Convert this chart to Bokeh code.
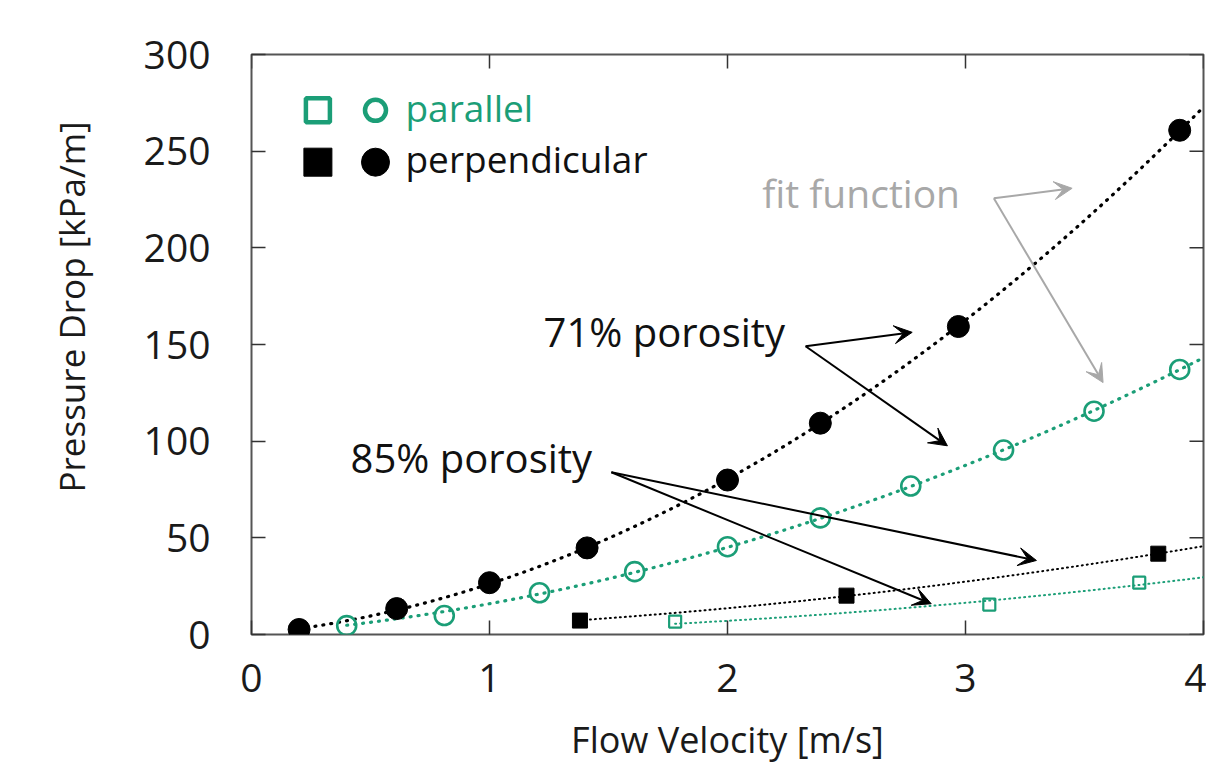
import numpy as np
from bokeh.plotting import figure
from bokeh.models import Range1d, Arrow, VeeHead, FixedTicker, Title
from bokeh.core.properties import value
from bokeh.embed import file_html
from bokeh.resources import INLINE

# ---- data ----
perp71_v = [0.20, 0.61, 1.00, 1.41, 2.00, 2.39, 2.97, 3.90]
perp71_p = [2.6, 13.4, 26.8, 44.8, 79.9, 109.3, 159.3, 260.8]
par71_v = [0.40, 0.81, 1.21, 1.61, 2.00, 2.39, 2.77, 3.16, 3.54, 3.90]
par71_p = [4.6, 9.8, 21.6, 32.5, 45.4, 60.3, 76.8, 95.4, 115.5, 137.1]
perp85_v = [1.38, 2.50, 3.81]
perp85_p = [7.2, 20.1, 41.8]
par85_v = [1.78, 3.10, 3.73]
par85_p = [6.7, 15.5, 26.8]

x_ticks = [0, 1, 2, 3, 4]
y_ticks = [0, 50, 100, 150, 200, 250, 300]

# annotation anchors (data units)
label71 = (1.227, 156.7)
label85 = (0.416, 91.4)
labelfit = (2.146, 228.5)
arrows71 = [((2.328, 149.1), (2.776, 156.3)), ((2.328, 149.1), (2.924, 97.6))]
arrows85 = [((1.512, 83.9), (3.298, 38.3)), ((1.512, 83.9), (2.856, 15.9))]
arrowsfit = [((3.119, 225.6), (3.448, 230.8)), ((3.119, 225.6), (3.578, 130.3))]
legend_sq_x, legend_ci_x, legend_txt_x = 0.279, 0.521, 0.647
legend_rows = (271.1, 244.3)
legend_txt_rows = (272.7, 246.0)

GREEN = "#1b9e77"
BLACK = "#000000"
GRAY = "#a8a8a8"
FONT = "Open Sans"

W, H = 1206, 766
BL, BR, BT, BB = 251, 3, 54, 130
TICK = 14


def forchheimer_fit(v, p, vmax=4.0):
    v = np.asarray(v, float)
    p = np.asarray(p, float)
    A = np.column_stack([v, v ** 2])
    coef, *_ = np.linalg.lstsq(A, p, rcond=None)
    vv = np.linspace(v.min(), vmax, 200)
    return vv, coef[0] * vv + coef[1] * vv ** 2


xr = Range1d(0, 4)
yr = Range1d(0, 300)
p = figure(width=W, height=H, output_backend="svg", toolbar_location=None,
           x_range=xr, y_range=yr,
           min_border_left=BL, min_border_right=BR, min_border_top=BT, min_border_bottom=BB)
p.background_fill_color = "white"
p.border_fill_color = "white"
p.grid.visible = False
p.outline_line_color = "#555555"
p.outline_line_width = 2

for ax in (p.xaxis[0], p.yaxis[0]):
    ax.axis_line_color = None
    ax.major_tick_in = TICK
    ax.major_tick_out = 0
    ax.major_tick_line_color = "#333333"
    ax.major_tick_line_width = 1.5
    ax.minor_tick_line_color = None
    ax.major_label_text_font = FONT
    ax.major_label_text_font_size = "39px"
    ax.major_label_text_color = "#1a1a1a"
    ax.axis_label_text_font = FONT
    ax.axis_label_text_font_size = "36px"
    ax.axis_label_text_font_style = "normal"
    ax.axis_label_text_color = "#1a1a1a"
p.xaxis[0].ticker = FixedTicker(ticks=x_ticks)
p.yaxis[0].ticker = FixedTicker(ticks=y_ticks)
p.xaxis[0].axis_label = "Flow Velocity [m/s]"
p.xaxis[0].major_label_standoff = 29
p.yaxis[0].major_label_standoff = 41
p.xaxis[0].axis_label_standoff = 20

# y-axis title placed off-centre, as in the reference
ytitle = Title(text="Pressure Drop [kPa/m]", align="left", offset=142,
               text_font=FONT, text_font_size="35px", text_font_style="normal",
               text_color="#1a1a1a", standoff=91)
p.add_layout(ytitle, "left")

# mirrored ticks on top and right edges
frame_w = W - BL - BR
frame_h = H - BT - BB
dy = TICK * (yr.end - yr.start) / frame_h
dx = TICK * (xr.end - xr.start) / frame_w
p.segment(x0=x_ticks, y0=[yr.end] * len(x_ticks), x1=x_ticks, y1=[yr.end - dy] * len(x_ticks),
          line_color="#333333", line_width=1.5)
p.segment(x0=[xr.end] * len(y_ticks), y0=y_ticks, x1=[xr.end - dx] * len(y_ticks), y1=y_ticks,
          line_color="#333333", line_width=1.5)

# fit curves
vv, pp = forchheimer_fit(perp71_v, perp71_p)
p.line(vv, pp, line_color=BLACK, line_width=3.2, line_dash="1 7", line_cap="round")
vv, pp = forchheimer_fit(par71_v, par71_p)
p.line(vv, pp, line_color=GREEN, line_width=3.2, line_dash="1 7", line_cap="round")
vv, pp = forchheimer_fit(perp85_v, perp85_p)
p.line(vv, pp, line_color=BLACK, line_width=2, line_dash="1 4", line_cap="round")
vv, pp = forchheimer_fit(par85_v, par85_p)
p.line(vv, pp, line_color=GREEN, line_width=2, line_dash="1 4", line_cap="round")

# data points
p.scatter(perp71_v, perp71_p, marker="circle", size=22, fill_color=BLACK, line_color=BLACK)
p.scatter(par71_v, par71_p, marker="circle", size=19, fill_color=None, line_color=GREEN, line_width=2.6)
p.scatter(perp85_v, perp85_p, marker="square", size=15, fill_color=BLACK, line_color=BLACK)
p.scatter(par85_v, par85_p, marker="square", size=12, fill_color=None, line_color=GREEN, line_width=2.2)

# legend (manual, gnuplot style)
p.scatter([legend_sq_x], [legend_rows[0]], marker="square", size=24, fill_color=None,
          line_color=GREEN, line_width=4.5)
p.scatter([legend_ci_x], [legend_rows[0]], marker="circle", size=21, fill_color=None,
          line_color=GREEN, line_width=4.5)
p.scatter([legend_sq_x], [legend_rows[1]], marker="square", size=28, fill_color=BLACK, line_color=BLACK)
p.scatter([legend_ci_x], [legend_rows[1]], marker="circle", size=28, fill_color=BLACK, line_color=BLACK)
p.text([legend_txt_x], [legend_txt_rows[0]], text=["parallel"], text_font=value(FONT),
       text_font_size="37px", text_color=GREEN, text_baseline="alphabetic")
p.text([legend_txt_x], [legend_txt_rows[1]], text=["perpendicular"], text_font=value(FONT),
       text_font_size="37px", text_color="#111111", text_baseline="alphabetic")

# annotations
p.text([label71[0]], [label71[1]], text=["71% porosity"], text_font=value(FONT),
       text_font_size="40px", text_color="#111111", text_baseline="alphabetic")
p.text([label85[0]], [label85[1]], text=["85% porosity"], text_font=value(FONT),
       text_font_size="40px", text_color="#111111", text_baseline="alphabetic")
p.text([labelfit[0]], [labelfit[1]], text=["fit function"], text_font=value(FONT),
       text_font_size="39px", text_color=GRAY, text_baseline="alphabetic")

for group, col in ((arrows71, BLACK), (arrows85, BLACK), (arrowsfit, GRAY)):
    for (s, e) in group:
        p.add_layout(Arrow(x_start=s[0], y_start=s[1], x_end=e[0], y_end=e[1],
                           line_color=col, line_width=2,
                           end=VeeHead(size=18, fill_color=col, line_color=col, line_width=1)))

open("out.html", "w").write(file_html(p, INLINE))
